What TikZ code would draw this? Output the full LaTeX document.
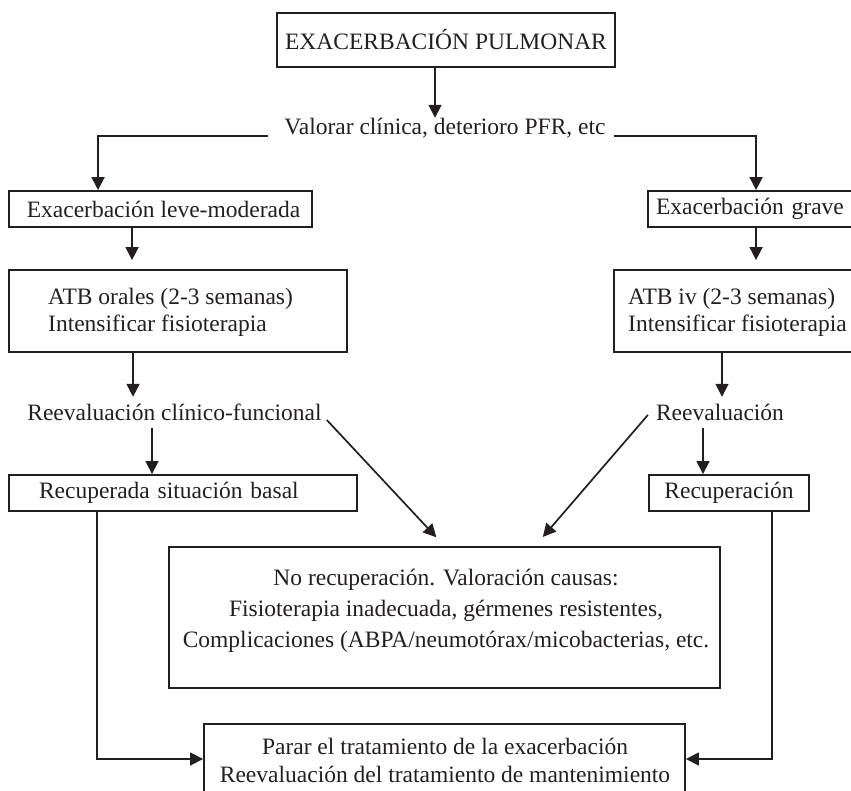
\documentclass[tikz,border=0pt]{standalone}
\usepackage{fontspec}
\setmainfont{Liberation Serif}
\usetikzlibrary{arrows.meta}
\definecolor{ink}{RGB}{35,31,32}
\begin{document}
\begin{tikzpicture}[x=1pt,y=-1pt,color=ink,
  box/.style={draw, line width=1.9pt, inner sep=0pt, font=\fontsize{23.5}{27}\selectfont},
  txt/.style={inner sep=0pt, text height=17pt, text depth=6pt, font=\fontsize{23.5}{27}\selectfont},
  lbl/.style={inner sep=0pt, font=\fontsize{23.5}{27}\selectfont},
  arr/.style={line width=1.7pt, -{Triangle[length=13pt,width=13pt]}}]
\useasboundingbox (0,0) rectangle (851,791);
\clip (0,0) rectangle (851,791);

% boxes with one line of text
\node[box, minimum width=338pt, minimum height=54pt] (top) at (446,40) {EXACERBACIÓN PULMONAR};
\node[txt, anchor=base] (val) at (445,135) {Valorar clínica, deterioro PFR, etc};
\node[box, minimum width=303pt, minimum height=36pt] (leve) at (160.5,209) {\hspace{6pt}Exacerbación leve-moderada};
\node[box, inner xsep=8pt, text width=210pt, align=left, minimum height=36pt] (grave) at (761,209) {Exacerbación grave};
\node[txt, anchor=base] (rcf) at (174.5,420) {Reevaluación clínico-funcional};
\node[txt, anchor=base] (rev) at (720,420) {Reevaluación};
\node[box, inner xsep=30pt, text width=288pt, align=left, minimum height=36pt] (recb) at (183,493) {Recuperada situación basal};
\node[box, minimum width=160pt, minimum height=36pt] (recu) at (729,493) {Recuperación};

% boxes with several lines of text
\node[box, minimum width=338pt, minimum height=82pt] (atbo) at (178,311) {};
\node[lbl, anchor=base west] (atbo1) at (48,305) {ATB orales (2-3 semanas)};
\node[lbl, anchor=base west] (atbo2) at (48,332) {Intensificar fisioterapia};

\node[box, minimum width=270pt, minimum height=82pt, anchor=west] (atbi) at (613,311) {};
\node[lbl, anchor=base west] (atbi1) at (628,305) {ATB iv (2-3 semanas)};
\node[lbl, anchor=base west] (atbi2) at (628,332) {Intensificar fisioterapia};

\node[box, minimum width=551pt, minimum height=141pt] (cent) at (444.5,617.5) {};
\node[lbl, anchor=base] (cent1) at (446,585) {No recuperación. Valoración causas:};
\node[lbl, anchor=base] (cent2) at (446,616) {Fisioterapia inadecuada, gérmenes resistentes,};
\node[lbl, anchor=base] (cent3) at (446,647) {Complicaciones (ABPA/neumotórax/micobacterias, etc.};

\node[box, minimum width=481pt, minimum height=76pt] (bot) at (444.5,762) {};
\node[lbl, anchor=base] (bot1) at (445,754) {Parar el tratamiento de la exacerbación};
\node[lbl, anchor=base] (bot2) at (445,782) {Reevaluación del tratamiento de mantenimiento};

% connectors
\draw[arr] ([xshift=-11pt]top.south) -- ([xshift=-11pt]top.south |- val.north);
\draw[arr] ([xshift=-16pt,yshift=-1pt]val.base west) -| ([xshift=90pt]leve.north west);
\draw[arr] ([xshift=8pt,yshift=-1pt]val.base east) -| ([xshift=109pt]grave.north west);
\draw[arr, shorten >=9pt] ([xshift=124pt]leve.south west) -- ([xshift=124pt]leve.south west |- atbo.north);
\draw[arr, shorten >=9pt] ([xshift=109pt]grave.south west) -- ([xshift=109pt]grave.south west |- atbi.north);
\draw[arr] ([xshift=125pt]atbo.south west) -- ([xshift=125pt,yshift=6pt]atbo.south west |- rcf.north);
\draw[arr] ([xshift=109pt]atbi.south west) -- ([xshift=109pt,yshift=6pt]atbi.south west |- rev.north);
\draw[arr] ([xshift=-22.5pt,yshift=-2pt]rcf.south) -- ([xshift=-22.5pt]rcf.south |- recb.north);
\draw[arr] ([xshift=-17pt,yshift=-2pt]rev.south) -- ([xshift=-17pt]rev.south |- recu.north);
\draw[arr, shorten >=12pt] ([xshift=5pt]rcf.base east) -- (cent.north);
\draw[arr, shorten >=12pt] ([xshift=-8pt,yshift=5pt]rev.base west) -- ([xshift=90.5pt]cent.north);
\draw[arr] ([xshift=89pt]recb.south west) |- ([yshift=3pt]bot.west);
\draw[arr] ([xshift=124pt]recu.south west) |- ([yshift=3pt]bot.east);
\end{tikzpicture}
\end{document}
